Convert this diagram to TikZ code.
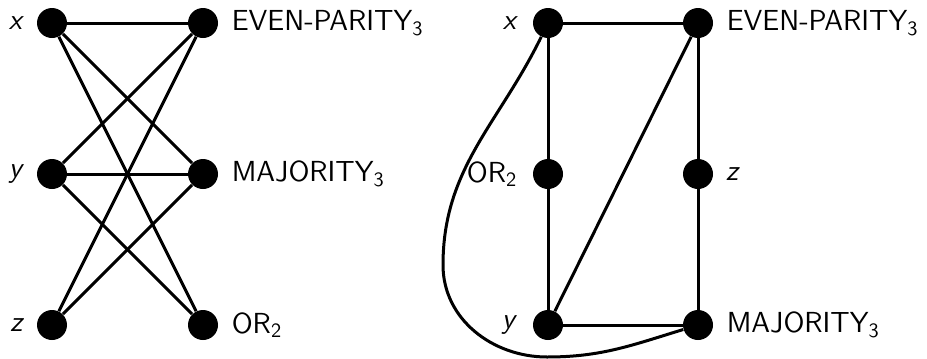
\documentclass[tikz,border=0pt]{standalone}
\usetikzlibrary{positioning}
\tikzset{
  vtx/.style={circle, fill=black, inner sep=0pt, minimum size=15pt},
  edge/.style={line width=1.5pt},
  lbl/.style={font=\sffamily\fontsize{14.5}{17}\selectfont, inner sep=1pt}
}
\begin{document}
\begin{tikzpicture}[x=0.5pt, y=-0.5pt]
        \useasboundingbox (0,0) rectangle (927,359);

        % bipartite graph
        \node[vtx, label={[lbl, label distance=5pt]left:\textit{x}}] (lx) at (52,23) {};
        \node[vtx, label={[lbl, label distance=5pt]left:\textit{y}}] (ly) at (52,174) {};
        \node[vtx, label={[lbl, label distance=5pt]left:\textit{z}}] (lz) at (52,325) {};
        \node[vtx, label={[lbl, label distance=5.5pt]right:EVEN-PARITY\textsubscript{3}}] (lev) at (203,23) {};
        \node[vtx, label={[lbl, label distance=5.5pt]right:MAJORITY\textsubscript{3}}] (lmaj) at (203,174) {};
        \node[vtx, label={[lbl, label distance=5.5pt]right:OR\textsubscript{2}}] (lor) at (203,325) {};

        \foreach \a in {lx,ly} {
            \foreach \b in {lev,lmaj,lor}
                \draw[edge] (\a) -- (\b);
        }
        \draw[edge] (lz) -- (lev);
        \draw[edge] (lz) -- (lmaj);

        % planar drawing
        \node[vtx, label={[lbl, label distance=6pt]left:\textit{x}}] (rx) at (548,23) {};
        \node[vtx, label={[lbl, label distance=6.5pt]left:OR\textsubscript{2}}] (ror) at (548,174) {};
        \node[vtx, label={[lbl, label distance=6.5pt]left:\textit{y}}] (ry) at (548,325) {};
        \node[vtx, label={[lbl, label distance=5.5pt]right:EVEN-PARITY\textsubscript{3}}] (rev) at (698,23) {};
        \node[vtx, label={[lbl, label distance=5pt]right:\textit{z}}] (rz) at (698,174) {};
        \node[vtx, label={[lbl, label distance=5.5pt]right:MAJORITY\textsubscript{3}}] (rmaj) at (698,325) {};

        \draw[edge] (rx) -- (rev);
        \draw[edge] (rx) -- (ror);
        \draw[edge] (ror) -- (ry);
        \draw[edge] (rev) -- (rz);
        \draw[edge] (rz) -- (rmaj);
        \draw[edge] (ry) -- (rmaj);
        \draw[edge] (ry) -- (rev);

        \coordinate (bendl) at (443,265);
        \coordinate (bendb) at (547,357);
        \draw[edge] (rx) to[out=244,in=90] (bendl) to[out=270,in=180] (bendb) to[out=0,in=197] (rmaj);
    \end{tikzpicture}
\end{document}
